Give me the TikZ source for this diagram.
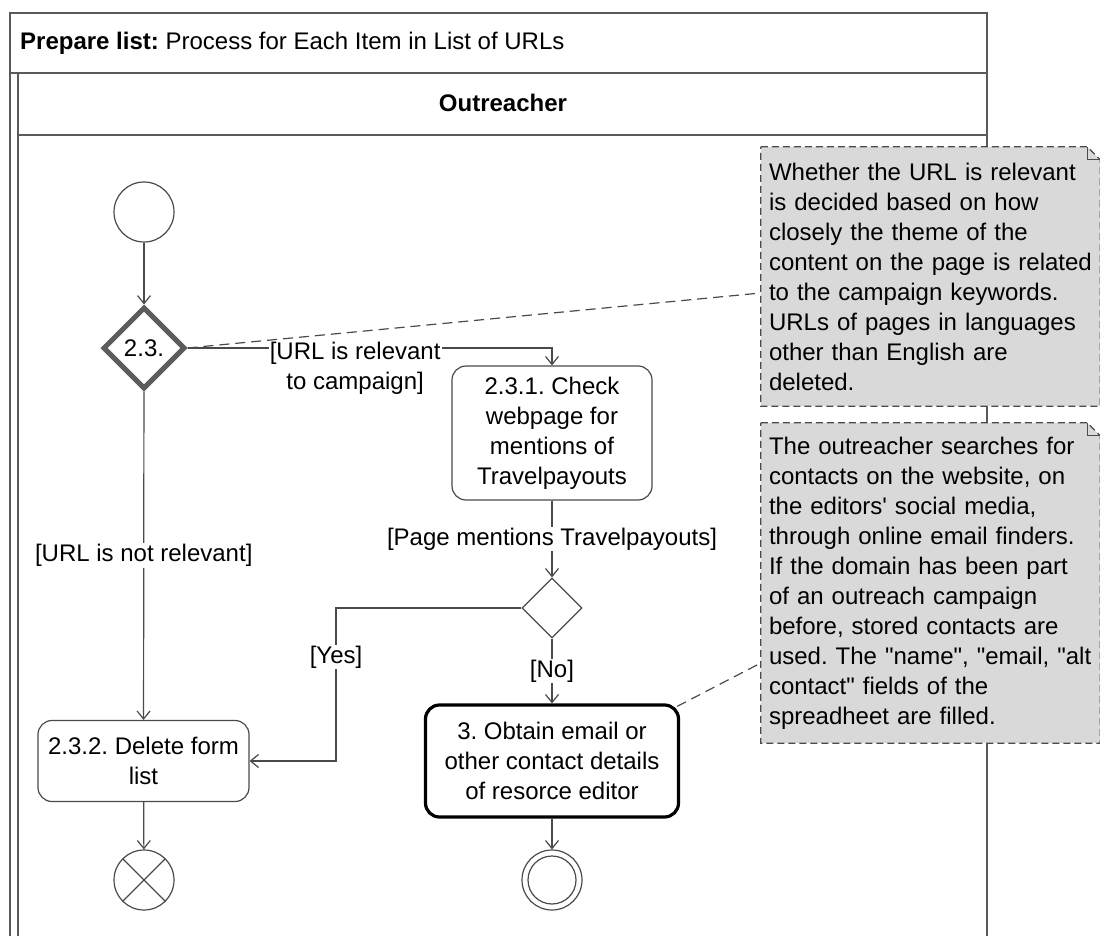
\documentclass[tikz,border=0pt]{standalone}
\usepackage{fontspec}
\setmainfont{Liberation Sans}[Ligatures=TeXOff]
\usetikzlibrary{arrows.meta,shapes.geometric,calc}
\pgfdeclarelayer{background}
\pgfsetlayers{background,main}
\definecolor{edge}{HTML}{4A4A4A}
\definecolor{framec}{HTML}{5A5A5A}
\definecolor{notefill}{HTML}{D9D9D9}
\frenchspacing

\begin{document}
\begin{tikzpicture}[x=1pt,y=-1pt,
  font=\fontsize{24}{30}\selectfont,
  frameline/.style={draw=framec, line width=1.5pt},
  flow/.style={draw=edge, line width=1.2pt, -{Straight Barb[length=8pt,width=13pt]}},
  anchorline/.style={draw=edge, line width=1.2pt, dash pattern=on 10pt off 6pt},
  action/.style={draw=edge, line width=1.2pt, rounded corners=14pt, align=center,
    inner sep=0pt, fill=white},
  mainaction/.style={action, draw=black, line width=3.2pt},
  lab/.style={fill=white, inner sep=1pt, align=center, text=black},
  disc/.style={circle, draw=edge, line width=1.2pt, minimum size=60pt, inner sep=0pt},
  decision/.style={diamond, aspect=1, draw=edge, inner sep=0pt, fill=white},
  notebox/.style={draw=edge, line width=1.2pt, dash pattern=on 7pt off 4pt, fill=notefill},
  notetext/.style={rectangle, inner xsep=8pt, inner ysep=0pt, text width=323pt,
    align=left, minimum height=#1}
]
\useasboundingbox (0,0) rectangle (1100,936);

% nodes
\node[anchor=west, inner sep=0pt] (title) at (20,43)
  {\textbf{Prepare list:} Process for Each Item in List of URLs};
\node[inner sep=0pt] (lane) at (503,103) {\textbf{Outreacher}};
\node[disc] (start) at (144,212) {};
\node[decision, draw=edge!90, line width=5pt, minimum width=82pt, minimum height=82pt] (d23) at (144,348) {2.3.};
\node[action, minimum width=200pt, minimum height=134pt] (b231) at (552,433)
  {2.3.1. Check\\webpage for\\mentions of\\Travelpayouts};
\node[decision, line width=1.2pt, minimum width=60pt, minimum height=60pt] (dm) at (552,608) {};
\node[action, minimum width=211pt, minimum height=81pt] (b232) at (143.5,761)
  {2.3.2. Delete form\\list};
\node[mainaction, minimum width=253pt, minimum height=112pt] (b3) at (552,761)
  {3. Obtain email or\\other contact details\\of resorce editor};
\node[disc, path picture={
    \draw[edge, line width=1.2pt]
      ($(path picture bounding box.center)+(-21.2,-21.2)$) -- ++(42.4,42.4)
      ($(path picture bounding box.center)+(21.2,-21.2)$) -- ++(-42.4,42.4);
  }] (ff) at (144,880) {};
\node[disc, path picture={
    \draw[edge, line width=1.2pt] (path picture bounding box.center) circle[radius=24pt];
  }] (af) at (552,880) {};

% notes
\node[notetext=259pt] (note1) at (930.5,276.5)
  {Whether the URL is relevant\\is decided based on how\\closely the theme of the\\content on the page is related\\to the campaign keywords.\\URLs of pages in languages\\other than English are\\deleted.};
\node[notetext=320pt] (note2) at (930.5,583)
  {The outreacher searches for\\contacts on the website, on\\the editors' social media,\\through online email finders.\\If the domain has been part\\of an outreach campaign\\before, stored contacts are\\used. The "name", "email, "alt\\contact" fields of the\\spreadheet are filled.};

\begin{pgfonlayer}{background}
  % activity frame and swimlane
  \draw[frameline] (10,940) -- (10,13) -- (987,13) -- (987,940);
  \draw[frameline] (10,73) -- (987,73);
  \draw[frameline] (18,940) -- (18,73);
  \draw[frameline] (18,135) -- (987,135);
  % note outlines with folded corner
  \foreach \n in {note1,note2}{
    \path[notebox] (\n.north west) -- ([xshift=-13pt]\n.north east)
      -- ([yshift=-13pt]\n.north east) -- (\n.south east) -- (\n.south west) -- cycle;
    \draw[edge, line width=1.2pt] ([xshift=-13pt]\n.north east)
      -- ([xshift=-13pt,yshift=-13pt]\n.north east) -- ([yshift=-13pt]\n.north east);
  }
\end{pgfonlayer}

% control flows
\coordinate (yesbend) at (336,608);
\draw[flow] (start) -- (d23);
\draw[flow] (d23.east) -| node[lab, pos=0.23, yshift=-20pt] {[URL is relevant\\to campaign]} (b231.north);
\draw[flow] (d23) -- node[lab] {[URL is not relevant]} (b232);
\draw[flow] (b231) -- node[lab] {[Page mentions Travelpayouts]} (dm);
\draw[flow] (dm.west) -- (yesbend) |- node[lab, pos=0.16] {[Yes]} (b232.east);
\draw[flow] (dm) -- node[lab] {[No]} (b3);
\draw[flow] (b232) -- (ff);
\draw[flow] (b3) -- (af);

% note anchors
\draw[anchorline] (d23.east) -- ([yshift=-16.5pt]note1.west);
\draw[anchorline] ([xshift=-3pt,yshift=-3pt]b3.north east) -- ([yshift=-80pt]note2.west);
\end{tikzpicture}
\end{document}
